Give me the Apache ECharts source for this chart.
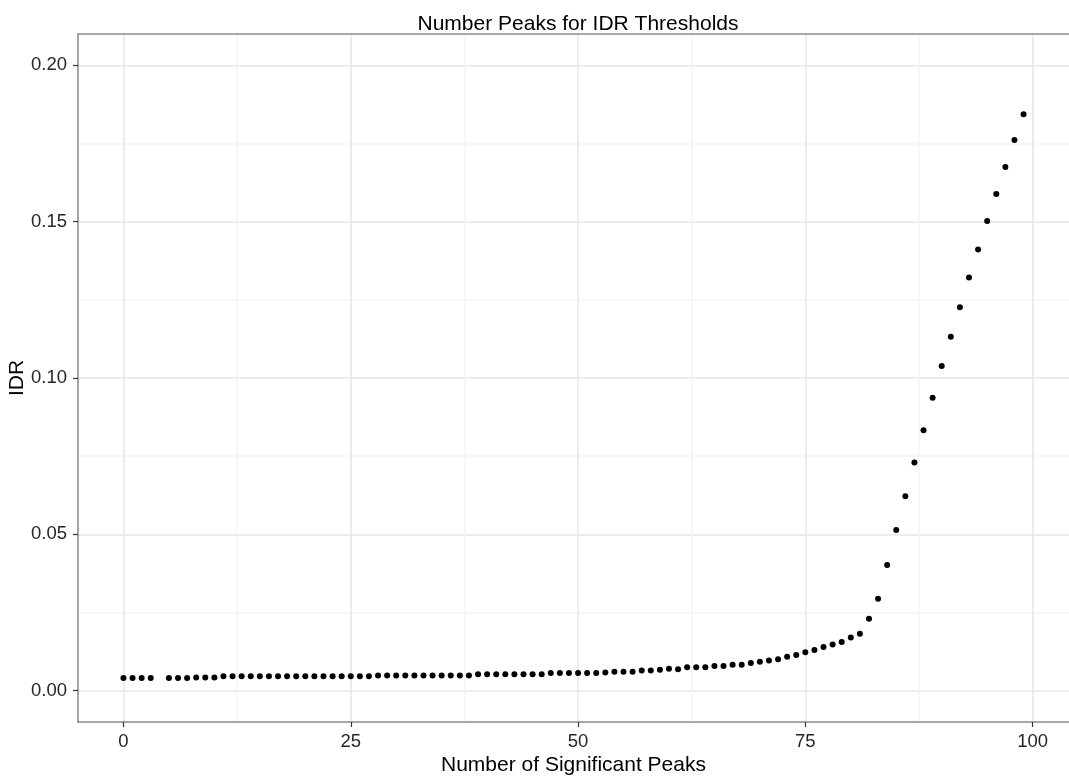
<!DOCTYPE html>
<html>
<head>
<meta charset="utf-8">
<title>Number Peaks for IDR Thresholds</title>
<script src="https://cdn.jsdelivr.net/npm/echarts@6/dist/echarts.min.js"></script>
<style>
  html, body { margin: 0; padding: 0; background: #ffffff; }
  #chart { width: 1069px; height: 778px; }
</style>
</head>
<body>
<div id="chart"></div>
<script>
// Number of significant peaks retained at each IDR threshold (peak index 4 absent)
const peaks = [
  0, 1, 2, 3, 5, 6, 7, 8, 9, 10,
  11, 12, 13, 14, 15, 16, 17, 18, 19, 20,
  21, 22, 23, 24, 25, 26, 27, 28, 29, 30,
  31, 32, 33, 34, 35, 36, 37, 38, 39, 40,
  41, 42, 43, 44, 45, 46, 47, 48, 49, 50,
  51, 52, 53, 54, 55, 56, 57, 58, 59, 60,
  61, 62, 63, 64, 65, 66, 67, 68, 69, 70,
  71, 72, 73, 74, 75, 76, 77, 78, 79, 80,
  81, 82, 83, 84, 85, 86, 87, 88, 89, 90,
  91, 92, 93, 94, 95, 96, 97, 98, 99
];
const idr = [
  0.0041, 0.0041, 0.0041, 0.0041, 0.0041, 0.0041, 0.0041, 0.0042, 0.0042, 0.0042,
  0.0046, 0.0046, 0.0046, 0.0046, 0.0046, 0.0046, 0.0046, 0.0046, 0.0046, 0.0046,
  0.0046, 0.0046, 0.0046, 0.0046, 0.0046, 0.0046, 0.0046, 0.0049, 0.0049, 0.0049,
  0.0049, 0.0049, 0.0049, 0.0049, 0.0049, 0.0049, 0.0049, 0.0049, 0.0053, 0.0053,
  0.0053, 0.0053, 0.0053, 0.0053, 0.0053, 0.0053, 0.0057, 0.0057, 0.0057, 0.0057,
  0.0057, 0.0057, 0.0058, 0.0061, 0.0061, 0.0061, 0.0065, 0.0065, 0.0067, 0.0070,
  0.0069, 0.0075, 0.0075, 0.0075, 0.0079, 0.0079, 0.0083, 0.0083, 0.0089, 0.0093,
  0.0097, 0.0101, 0.0109, 0.0114, 0.0123, 0.0130, 0.0140, 0.0148, 0.0156, 0.0170,
  0.0182, 0.0230, 0.0294, 0.0402, 0.0514, 0.0622, 0.0730, 0.0833, 0.0937, 0.1038,
  0.1132, 0.1226, 0.1321, 0.1411, 0.1502, 0.1588, 0.1675, 0.1761, 0.1843
];
const xTicks = [0, 25, 50, 75, 100];
const yTicks = [0, 0.05, 0.10, 0.15, 0.20];
const yTickLabels = ['0.00', '0.05', '0.10', '0.15', '0.20'];

const FONT = '"Liberation Sans", Arial, sans-serif';
const MAJOR = '#e6e6e6';
const MINOR = '#f3f3f3';
const NONE = 'rgba(0,0,0,0)';
// Fine tick step on the helper axes: every 10th line is a major grid line,
// the one half-way between is a minor grid line.
const gridColors = [NONE, NONE, MAJOR, NONE, NONE, NONE, NONE, MINOR, NONE, NONE];

// The panel is open on the right: its frame is drawn by the left, bottom and top axis lines.
const X_MIN = -5, X_MAX = 104;
const Y_MIN = -0.01, Y_MAX = 0.21;

const chart = echarts.init(document.getElementById('chart'), null, { renderer: 'canvas' });

const points = peaks.map((p, i) => [p, idr[i]]);

const frame = { show: true, onZero: false, lineStyle: { color: '#8a8a8a', width: 1.5 } };
const tickStyle = { color: '#333333', width: 1.2 };
const labelStyle = { fontFamily: FONT, fontSize: 18.5, color: '#262626' };
const nameStyle = { fontFamily: FONT, fontSize: 21, color: '#000000' };

chart.setOption({
  animation: false,
  backgroundColor: '#ffffff',
  title: {
    text: 'Number Peaks for IDR Thresholds',
    left: 573,
    top: 9,
    textAlign: 'center',
    textStyle: { fontFamily: FONT, fontSize: 21, fontWeight: 'normal', color: '#000000' }
  },
  grid: {
    left: 78, top: 34, right: 0, bottom: 56,
    containLabel: false,
    outerBoundsMode: 'none',
    show: false
  },
  xAxis: [
    {
      type: 'value',
      position: 'bottom',
      min: X_MIN, max: X_MAX, interval: 2.5,
      name: 'Number of Significant Peaks',
      nameLocation: 'middle',
      nameGap: 33,
      nameMoveOverlap: false,
      nameTextStyle: nameStyle,
      axisLine: frame,
      axisTick: { show: true, customValues: xTicks, length: 5, lineStyle: tickStyle },
      axisLabel: Object.assign({ customValues: xTicks, margin: 10 }, labelStyle),
      splitLine: { show: false }
    },
    {
      type: 'value',
      gridIndex: 0,
      position: 'top',
      min: X_MIN, max: X_MAX, interval: 2.5,
      axisLine: frame,
      axisTick: { show: false },
      axisLabel: { show: false },
      splitLine: { show: true, lineStyle: { color: gridColors, width: 1.5 } }
    }
  ],
  yAxis: [
    {
      type: 'value',
      position: 'left',
      min: Y_MIN, max: Y_MAX, interval: 0.005,
      name: 'IDR',
      nameLocation: 'middle',
      nameGap: 50,
      nameMoveOverlap: false,
      nameTextStyle: nameStyle,
      axisLine: frame,
      axisTick: { show: true, customValues: yTicks, length: 5, lineStyle: tickStyle },
      axisLabel: Object.assign({
        customValues: yTicks,
        margin: 11,
        formatter: (v) => {
          const k = yTicks.findIndex(t => Math.abs(t - v) < 1e-9);
          return k >= 0 ? yTickLabels[k] : '';
        }
      }, labelStyle),
      splitLine: { show: false }
    },
    {
      type: 'value',
      gridIndex: 0,
      position: 'right',
      min: Y_MIN, max: Y_MAX, interval: 0.005,
      axisLine: { show: false, onZero: false },
      axisTick: { show: false },
      axisLabel: { show: false },
      splitLine: { show: true, lineStyle: { color: gridColors, width: 1.5 } }
    }
  ],
  series: [
    {
      type: 'scatter',
      xAxisIndex: 0,
      yAxisIndex: 0,
      data: points,
      symbol: 'circle',
      symbolSize: 6,
      itemStyle: { color: '#000000', opacity: 1 },
      z: 3
    }
  ]
});
</script>
</body>
</html>
